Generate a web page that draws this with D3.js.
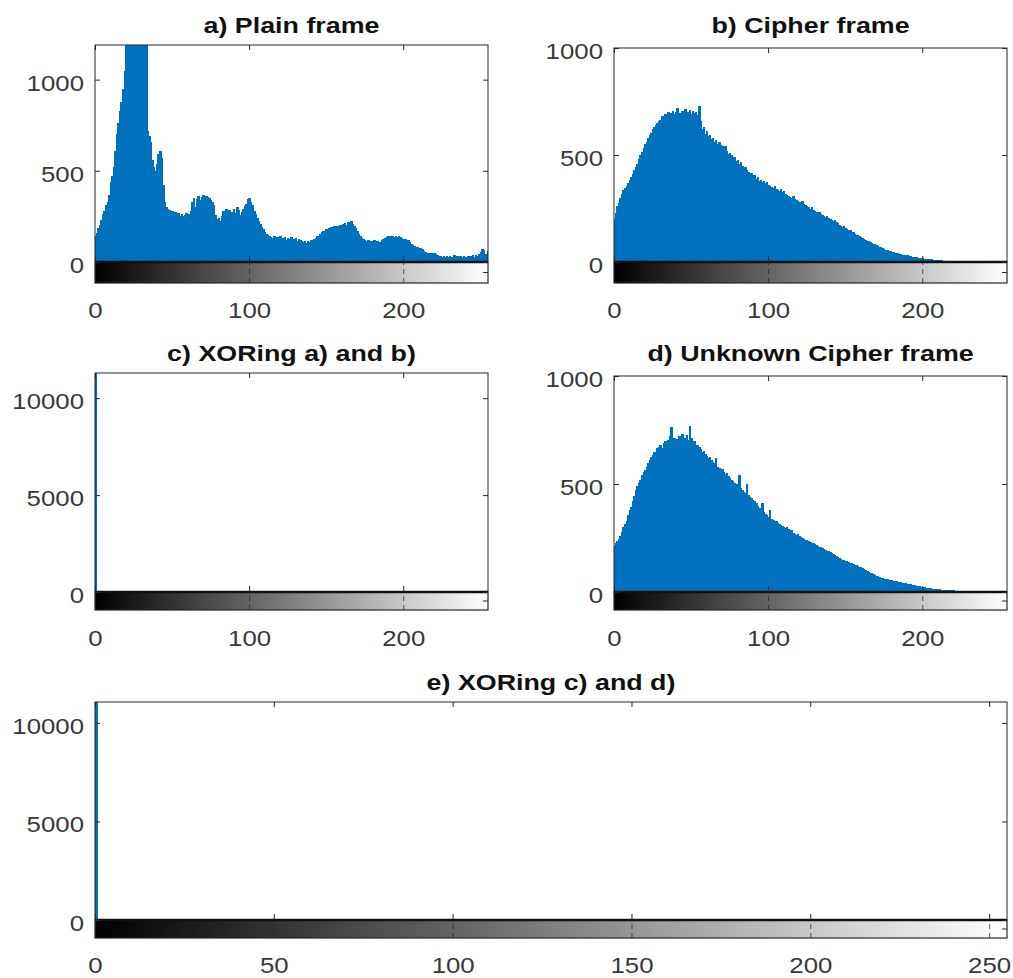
<!DOCTYPE html>
<html><head><meta charset="utf-8">
<script src="https://cdn.jsdelivr.net/npm/d3@7"></script>
<style>body{margin:0;background:#fff}svg{display:block}</style>
</head><body><svg id="chart" width="1013" height="978"></svg>
<script>
// gray levels (histogram bins)
const grayLevels = d3.range(256);

// a) Plain frame
const plainCounts = [
140,160,185,205,230,265,280,310,330,370,440,470,520,610,700,760,
830,880,950,1050,1250,1400,1600,1800,2000,2200,2300,2250,2100,1900,1700,1500,
1350,1250,720,690,660,560,520,500,540,590,610,570,420,330,300,290,
285,270,280,265,275,260,270,255,265,250,260,270,255,265,280,330,
350,300,345,360,340,355,365,345,360,355,350,340,330,310,260,235,
240,225,255,280,265,290,270,285,265,275,290,270,300,285,260,275,
290,305,320,345,350,330,310,280,265,240,225,210,190,180,165,155,
150,140,135,130,140,125,135,130,140,125,130,135,120,130,125,135,
120,125,130,115,125,120,115,110,115,105,115,110,120,115,125,130,
140,145,155,165,170,165,180,175,185,190,180,195,190,200,195,205,
200,210,215,205,220,215,225,210,200,185,170,155,140,130,125,120,
115,118,110,115,112,118,110,115,108,112,118,125,130,135,140,130,
145,140,135,145,138,142,135,130,128,125,122,118,110,100,95,88,
85,80,78,75,70,62,55,50,52,48,50,45,48,42,38,35,
32,30,35,28,32,30,34,28,30,36,30,33,28,32,30,35,
30,28,34,30,32,36,30,38,35,45,55,70,65,45,40,60
];

// b) Cipher frame
const cipherCounts = [
200,230,260,275,300,320,335,345,355,370,385,395,410,430,445,460,
480,500,515,535,550,560,580,595,605,620,630,640,650,660,665,680,
670,690,685,700,680,695,705,690,700,720,695,690,705,700,715,690,
700,710,690,705,695,700,685,730,660,620,630,600,610,590,595,575,
580,560,570,550,560,545,540,530,540,520,505,510,500,480,490,470,
475,460,465,450,440,445,430,420,410,415,400,405,390,395,380,385,
375,380,370,375,360,355,350,345,355,340,335,330,340,325,330,320,
315,310,305,300,310,295,290,285,280,275,285,270,265,260,255,250,
255,245,240,235,230,235,225,220,215,210,215,205,200,195,190,195,
185,180,175,170,165,168,160,155,150,148,140,138,132,128,125,120,
118,112,108,105,100,98,92,90,85,82,78,75,70,68,65,62,
58,56,52,50,48,45,43,40,42,38,36,34,32,30,31,28,
27,25,24,22,23,20,19,18,17,16,15,14,13,14,12,11,
10,11,9,8,9,7,7,6,6,5,5,6,4,4,3,4,
3,3,2,3,2,2,2,1,2,1,1,1,1,0,1,0,
0,1,0,0,0,0,0,0,0,0,0,0,0,0,0,0
];

// c) XORing a) and b)
const xorABCounts = [
12000,0,0,0,0,0,0,0,0,0,0,0,0,0,0,0,
0,0,0,0,0,0,0,0,0,0,0,0,0,0,0,0,
0,0,0,0,0,0,0,0,0,0,0,0,0,0,0,0,
0,0,0,0,0,0,0,0,0,0,0,0,0,0,0,0,
0,0,0,0,0,0,0,0,0,0,0,0,0,0,0,0,
0,0,0,0,0,0,0,0,0,0,0,0,0,0,0,0,
0,0,0,0,0,0,0,0,0,0,0,0,0,0,0,0,
0,0,0,0,0,0,0,0,0,0,0,0,0,0,0,0,
0,0,0,0,0,0,0,0,0,0,0,0,0,0,0,0,
0,0,0,0,0,0,0,0,0,0,0,0,0,0,0,0,
0,0,0,0,0,0,0,0,0,0,0,0,0,0,0,0,
0,0,0,0,0,0,0,0,0,0,0,0,0,0,0,0,
0,0,0,0,0,0,0,0,0,0,0,0,0,0,0,0,
0,0,0,0,0,0,0,0,0,0,0,0,0,0,0,0,
0,0,0,0,0,0,0,0,0,0,0,0,0,0,0,0,
0,0,0,0,0,0,0,0,0,0,0,0,0,0,0,0
];

// d) Unknown Cipher frame
const unknownCounts = [
215,225,235,245,260,280,300,315,330,355,380,395,420,445,470,490,
505,520,540,555,565,580,595,610,625,635,650,640,665,670,680,665,
690,700,685,705,720,765,700,715,700,710,720,705,730,700,715,725,
705,770,715,690,700,675,680,670,660,650,655,640,630,620,625,610,
600,595,620,580,575,560,570,555,545,550,535,530,520,515,505,500,
495,540,480,470,465,460,500,450,440,435,425,420,410,400,390,380,
410,370,360,355,345,380,340,335,330,330,320,315,310,305,300,295,
300,290,285,285,275,270,265,270,260,255,250,245,240,240,235,230,
228,225,222,218,215,210,208,205,200,195,192,188,185,180,175,170,
165,162,158,155,150,148,145,142,138,135,132,130,127,124,120,118,
115,110,106,102,97,93,90,86,82,79,76,73,70,67,64,62,
60,58,56,55,54,52,50,49,47,46,44,43,41,40,39,37,
36,34,33,31,30,28,26,25,23,22,20,19,18,17,16,15,
14,13,13,12,11,10,10,9,9,8,8,7,7,6,5,5,
4,4,4,3,3,3,3,2,2,2,2,1,1,1,2,1,
1,1,0,1,0,0,1,0,0,0,0,0,0,0,0,0
];

// e) XORing c) and d)
const xorCDCounts = [
12000,0,0,0,0,0,0,0,0,0,0,0,0,0,0,0,
0,0,0,0,0,0,0,0,0,0,0,0,0,0,0,0,
0,0,0,0,0,0,0,0,0,0,0,0,0,0,0,0,
0,0,0,0,0,0,0,0,0,0,0,0,0,0,0,0,
0,0,0,0,0,0,0,0,0,0,0,0,0,0,0,0,
0,0,0,0,0,0,0,0,0,0,0,0,0,0,0,0,
0,0,0,0,0,0,0,0,0,0,0,0,0,0,0,0,
0,0,0,0,0,0,0,0,0,0,0,0,0,0,0,0,
0,0,0,0,0,0,0,0,0,0,0,0,0,0,0,0,
0,0,0,0,0,0,0,0,0,0,0,0,0,0,0,0,
0,0,0,0,0,0,0,0,0,0,0,0,0,0,0,0,
0,0,0,0,0,0,0,0,0,0,0,0,0,0,0,0,
0,0,0,0,0,0,0,0,0,0,0,0,0,0,0,0,
0,0,0,0,0,0,0,0,0,0,0,0,0,0,0,0,
0,0,0,0,0,0,0,0,0,0,0,0,0,0,0,0,
0,0,0,0,0,0,0,0,0,0,0,0,0,0,0,0
];

const titles = ["a) Plain frame", "b) Cipher frame", "c) XORing a) and b)", "d) Unknown Cipher frame", "e) XORing c) and d)"];
const yTicksSmall = [0, 500, 1000];
const yTicksLarge = [0, 5000, 10000];
const xTicksNarrow = [0, 100, 200];
const xTicksWide = [0, 50, 100, 150, 200, 250];
const yMaxes = [1190, 1000, 11300, 1000, 11060];

// layout
const layout = [
  {x0:95,  x1:488,  y0:45,  y1:262, cb:283, titleY:33,  xLabelY:318},
  {x0:614, x1:1007, y0:48,  y1:262, cb:283, titleY:33,  xLabelY:318},
  {x0:95,  x1:488,  y0:373, y1:592, cb:610, titleY:361, xLabelY:646},
  {x0:614, x1:1007, y0:376, y1:592, cb:610, titleY:361, xLabelY:646},
  {x0:95,  x1:1007, y0:702, y1:920, cb:938, titleY:690, xLabelY:973}
];
const seriesList = [plainCounts, cipherCounts, xorABCounts, unknownCounts, xorCDCounts];
const yTickSets = [yTicksSmall, yTicksSmall, yTicksLarge, yTicksSmall, yTicksLarge];
const xTickSets = [xTicksNarrow, xTicksNarrow, xTicksNarrow, xTicksNarrow, xTicksWide];

const BLUE = "#0072BD", AX = "#262626", LBL = "#383838";
const FONT = "'Liberation Sans', Arial, Helvetica, sans-serif";
const SX = 1.2;

const svg = d3.select("#chart");
const defs = svg.append("defs");
const grad = defs.append("linearGradient").attr("id","grayramp")
  .attr("x1","0%").attr("x2","100%").attr("y1","0%").attr("y2","0%");
grad.append("stop").attr("offset","0%").attr("stop-color","#000");
grad.append("stop").attr("offset","100%").attr("stop-color","#fff");

layout.forEach((p, k) => {
  const values = seriesList[k];
  const x = d3.scaleLinear().domain([0, 255]).range([p.x0, p.x1]);
  const y = d3.scaleLinear().domain([0, yMaxes[k]]).range([p.y1, p.y0]);
  const g = svg.append("g");

  defs.append("clipPath").attr("id", "clip" + k).append("rect")
    .attr("x", p.x0).attr("y", p.y0).attr("width", p.x1 - p.x0).attr("height", p.y1 - p.y0);

  // histogram bars
  g.append("g").attr("clip-path", `url(#clip${k})`)
    .attr("shape-rendering", "crispEdges")
    .selectAll("rect").data(values).join("rect")
    .attr("x", (d, i) => x(grayLevels[i] - 0.5))
    .attr("width", (d, i) => x(grayLevels[i] + 0.5) - x(grayLevels[i] - 0.5) + 1)
    .attr("y", d => y(d))
    .attr("height", d => p.y1 - y(d))
    .attr("fill", BLUE);

  // plot box
  g.append("rect").attr("x", p.x0).attr("y", p.y0)
    .attr("width", p.x1 - p.x0).attr("height", p.y1 - p.y0)
    .attr("fill", "none").attr("stroke", AX).attr("stroke-width", 1);

  // colorbar
  g.append("rect").attr("x", p.x0).attr("y", p.y1)
    .attr("width", p.x1 - p.x0).attr("height", p.cb - p.y1)
    .attr("fill", "url(#grayramp)").attr("stroke", AX).attr("stroke-width", 1.2);
  g.append("line").attr("x1", p.x0).attr("x2", p.x1).attr("y1", p.y1).attr("y2", p.y1)
    .attr("stroke", "#111").attr("stroke-width", 2.5);
  g.append("line").attr("x1", p.x1 - 5).attr("x2", p.x1)
    .attr("y1", (p.y1 + p.cb) / 2).attr("y2", (p.y1 + p.cb) / 2)
    .attr("stroke", AX).attr("stroke-width", 1);

  const xt = xTickSets[k], yt = yTickSets[k];

  // top ticks
  g.append("g").attr("transform", `translate(0,${p.y0})`)
    .call(d3.axisTop(x).tickValues(xt).tickSizeInner(-5).tickSizeOuter(0).tickFormat(""))
    .call(s => s.select(".domain").remove())
    .selectAll("line").attr("stroke", AX);
  // bottom ticks (upward into plot)
  g.append("g").attr("transform", `translate(0,${p.y1})`)
    .call(d3.axisBottom(x).tickValues(xt).tickSizeInner(-6).tickSizeOuter(0).tickFormat(""))
    .call(s => s.select(".domain").remove())
    .selectAll("line").attr("stroke", AX);
  // colorbar ticks + x labels
  const xb = g.append("g").attr("transform", `translate(0,${p.cb})`)
    .call(d3.axisBottom(x).tickValues(xt).tickSizeInner(-(p.cb - p.y1)).tickSizeOuter(0).tickFormat(d3.format("d")))
    .call(s => s.select(".domain").remove());
  xb.selectAll("line").attr("stroke", "#222").attr("stroke-dasharray", "5,4").attr("opacity", 0.7);
  xb.selectAll("text")
    .attr("y", 0).attr("dy", null)
    .attr("transform", `translate(0,${p.xLabelY - p.cb}) scale(${SX},1)`)
    .attr("font-family", FONT).attr("font-size", 21.5).attr("fill", LBL);

  // left axis with labels
  const yl = g.append("g").attr("transform", `translate(${p.x0},0)`)
    .call(d3.axisLeft(y).tickValues(yt).tickSizeInner(-5).tickSizeOuter(0).tickFormat(d3.format("d")))
    .call(s => s.select(".domain").remove());
  yl.selectAll("line").attr("stroke", AX);
  yl.selectAll("text")
    .attr("x", 0).attr("dy", null)
    .attr("transform", `translate(-11,10.5) scale(${SX},1)`)
    .attr("font-family", FONT).attr("font-size", 21.5).attr("fill", LBL);

  // right ticks
  g.append("g").attr("transform", `translate(${p.x1},0)`)
    .call(d3.axisRight(y).tickValues(yt).tickSizeInner(-5).tickSizeOuter(0).tickFormat(""))
    .call(s => s.select(".domain").remove())
    .selectAll("line").attr("stroke", AX);

  // title
  g.append("text")
    .attr("transform", `translate(${(p.x0 + p.x1) / 2},${p.titleY}) scale(1.22,1)`)
    .attr("text-anchor", "middle")
    .attr("font-family", FONT).attr("font-weight", "bold").attr("font-size", 22)
    .attr("fill", "#111")
    .text(titles[k]);
});
</script>
</body></html>
